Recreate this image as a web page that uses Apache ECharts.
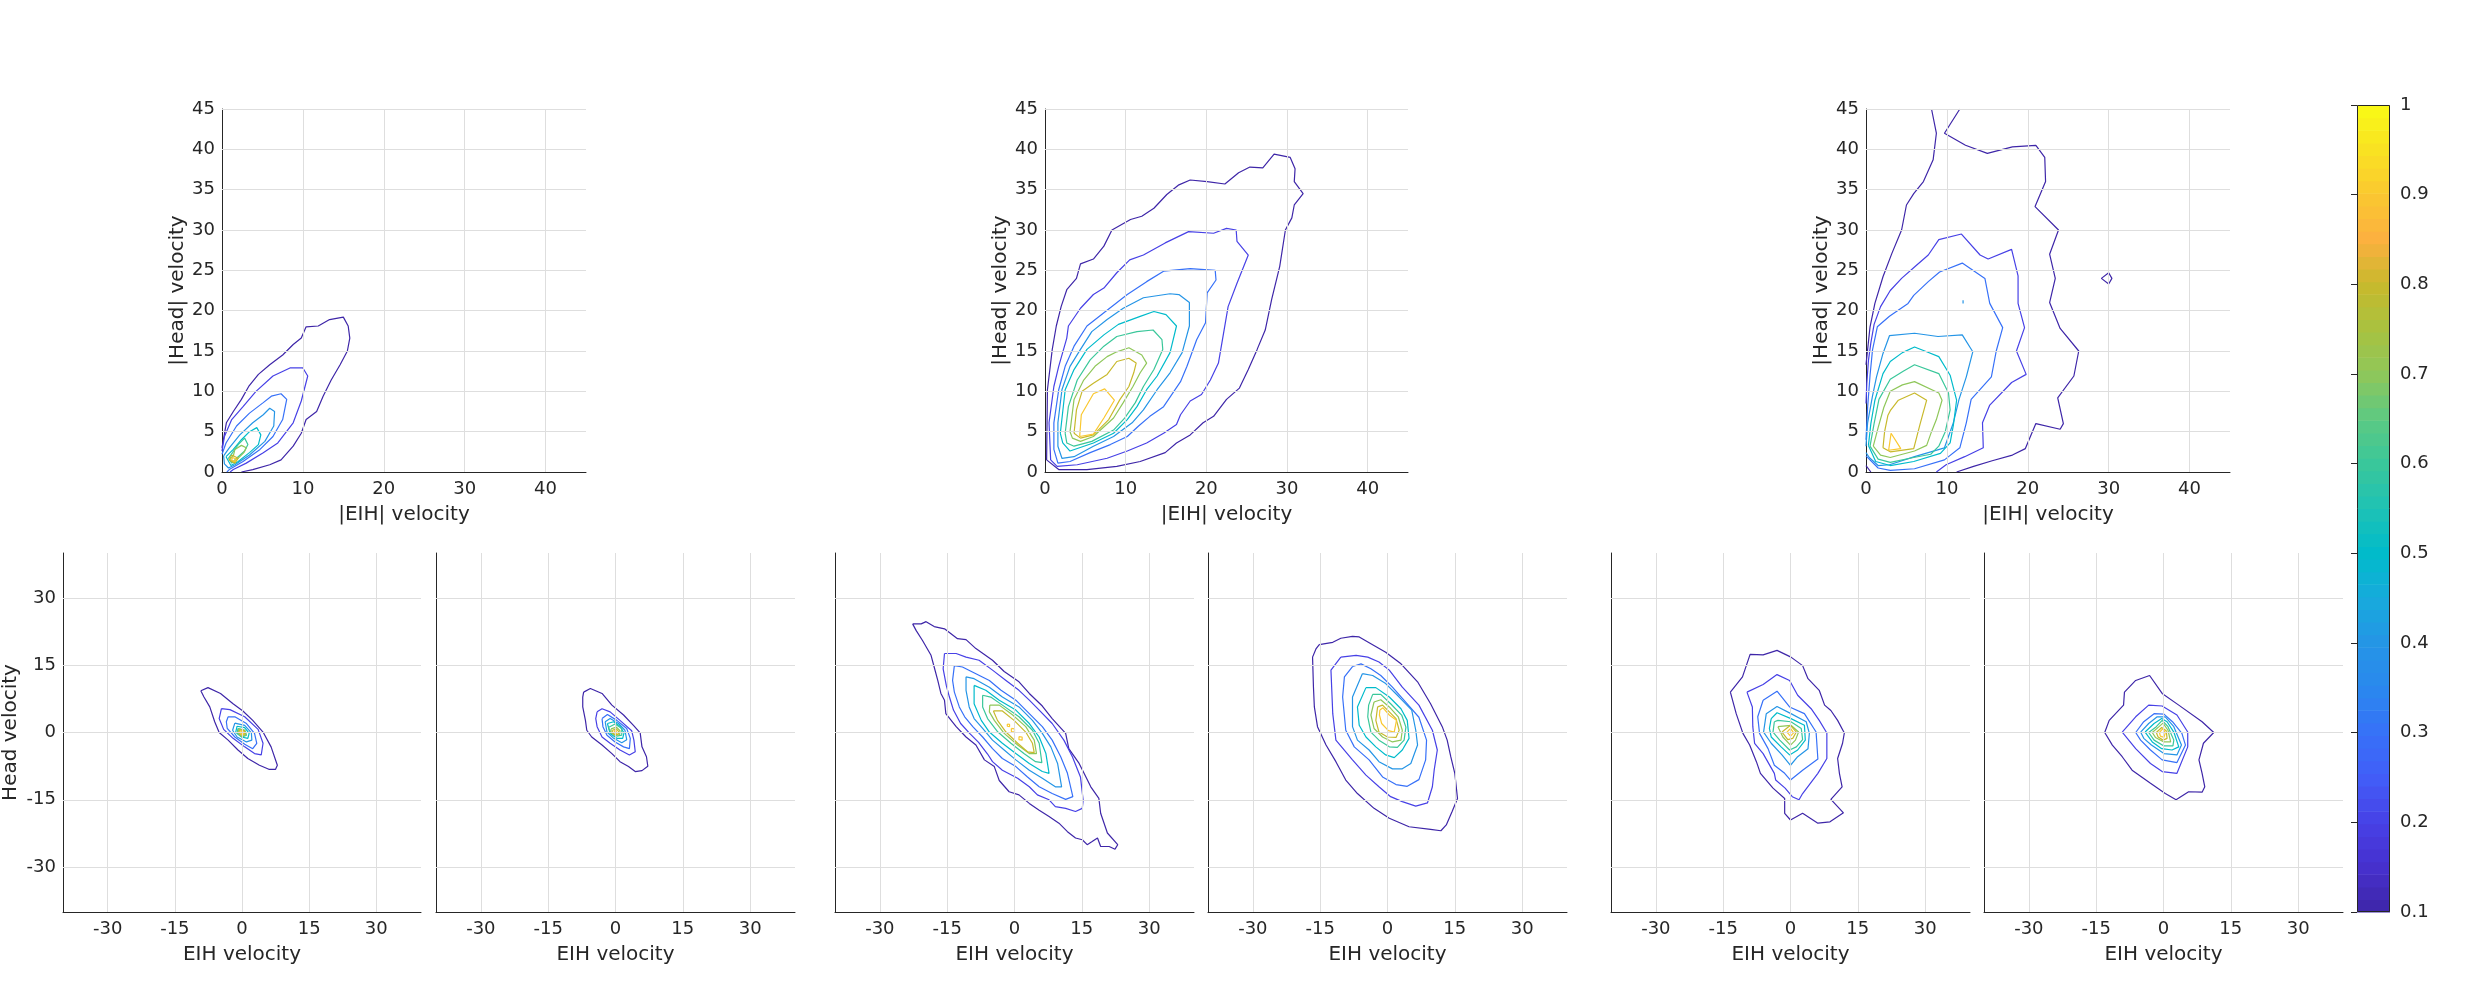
<!DOCTYPE html>
<html><head><meta charset="utf-8">
<script src="https://cdn.jsdelivr.net/npm/echarts@6/dist/echarts.min.js"></script>
<style>html,body{margin:0;padding:0;background:#fff}#c{width:2466px;height:995px}</style>
</head><body><div id="c"></div><script>
// ---------------- DATA ----------------
const contourLevels = [0.1,0.2,0.3,0.4,0.5,0.6,0.7,0.8,0.9];
const topRange = [0,45];
const topTicksX = [0,10,20,30,40];
const topTicksY = [0,5,10,15,20,25,30,35,40,45];
const bottomRange = [-40,40];
const bottomTicks = [-30,-15,0,15,30];
const colorRange = [0.1,1];
const colorbarTicks = [0.1,0.2,0.3,0.4,0.5,0.6,0.7,0.8,0.9,1];
const nameAbsX = '|EIH| velocity', nameAbsY = '|Head| velocity';
const nameX = 'EIH velocity', nameY = 'Head velocity';

// contour entries: [levelIndex, closed(1/0), points [x,y]...]
const contoursTop1 = [
 [0,0,[[0,3.0],[0.54,6.1],[1.4,7.5],[2.4,9.0],[3.3,10.6],[4.5,12.1],[5.9,13.3],[7.5,14.5],[8.8,15.8],[9.8,16.6],[10.4,18.0],[11.9,18.1],[13.3,18.9],[15.0,19.2],[15.6,18.1],[15.8,16.6],[15.5,15.0],[14.6,13.3],[13.5,11.4],[12.5,9.4],[11.7,7.5],[10.4,6.5],[9.8,4.8],[8.8,3.2],[7.3,1.5],[5.9,0.9],[3.8,0.3],[2.4,0]]],
 [1,0,[[0,2.6],[0.3,4.4],[1.2,6.5],[2.6,8.1],[4.2,10.0],[6.3,11.9],[8.4,12.9],[10.0,12.9],[10.6,11.9],[9.8,8.8],[8.8,6.1],[6.9,3.6],[5.1,2.4],[3.0,1.1],[1.4,0.3],[1.0,0]]],
 [2,0,[[0,2.2],[0.5,3.6],[1.8,5.7],[3.4,7.3],[5.1,8.6],[6.1,9.4],[7.3,9.7],[8.0,9.0],[7.5,6.5],[6.3,4.4],[4.7,2.8],[2.6,1.3],[0.9,0.3],[0.6,0]]],
 [3,1,[[0.2,2.0],[0.9,3.0],[2.2,4.6],[3.8,6.1],[5.1,7.1],[5.9,7.9],[6.5,7.5],[6.4,5.7],[5.3,3.8],[3.4,2.1],[1.6,0.9],[0.8,0.5],[0.3,1.0]]],
 [4,1,[[0.5,1.9],[1.4,2.8],[2.4,4.0],[3.4,5.0],[4.3,5.5],[4.8,4.6],[4.5,3.4],[3.4,2.4],[2.0,1.3],[1.1,0.8]]],
 [5,1,[[0.8,1.7],[1.3,2.4],[2.0,3.4],[2.8,4.2],[3.2,3.4],[2.8,2.6],[1.8,1.7],[1.2,1.1]]],
 [6,1,[[1.0,1.6],[1.4,2.0],[1.6,2.8],[2.4,3.3],[3.0,3.0],[2.7,2.4],[1.8,1.5],[1.3,1.2]]],
 [7,1,[[1.2,2.1],[2.0,1.7],[1.6,1.1],[0.9,1.5]]],
 [8,1,[[1.3,1.8],[1.8,1.6],[1.5,1.3],[1.2,1.5]]]
];
const contoursTop2 = [
 [0,1,[[0.2,1.5],[0.3,10.2],[0.9,15.2],[1.4,18.1],[2.0,20.5],[2.7,22.6],[3.9,24.0],[4.4,25.8],[6.0,26.4],[7.3,28.0],[8.3,30.0],[10.6,31.3],[12.0,31.7],[13.5,32.7],[15.1,34.4],[16.6,35.6],[18.0,36.2],[20.1,36.0],[22.3,35.7],[24.0,37.1],[25.4,37.8],[27.0,37.7],[28.4,39.4],[30.4,39.0],[31.0,37.6],[30.9,36.0],[32.0,34.5],[30.9,33.1],[30.6,31.5],[29.8,30.0],[29.1,25.5],[28.1,21.4],[27.3,17.6],[26.3,15.2],[25.2,12.7],[24.1,10.4],[22.5,9.0],[20.9,6.9],[19.6,6.1],[18.0,4.6],[16.3,3.6],[14.9,2.4],[11.8,1.3],[8.9,0.7],[5.2,0.3],[1.7,0.3]]],
 [1,1,[[0.7,1.5],[0.5,6.1],[1.1,10.6],[1.7,13.1],[2.7,16.6],[2.9,18.1],[4.4,20.3],[6.0,22.0],[7.3,22.8],[8.9,24.7],[10.5,26.3],[12.2,26.9],[14.9,28.4],[17.8,29.8],[20.9,29.6],[22.5,30.2],[23.7,30.0],[23.8,28.6],[25.2,26.9],[23.8,23.4],[22.7,20.5],[21.5,13.5],[20.5,11.4],[19.4,9.6],[18.0,8.8],[16.8,7.1],[16.3,5.9],[14.7,4.8],[12.6,3.6],[10.2,2.6],[7.7,1.7],[4.0,0.9],[1.5,0.7]]],
 [2,1,[[1.1,6.1],[1.7,10.2],[2.5,13.1],[3.6,15.6],[5.2,18.1],[7.5,19.9],[10.2,22.0],[12.6,23.6],[14.7,24.9],[18.0,25.2],[21.1,25.0],[21.2,23.8],[20.1,22.2],[19.9,18.5],[18.8,16.4],[17.6,13.1],[16.8,11.2],[14.7,8.1],[13.0,6.9],[11.6,5.7],[10.2,4.4],[8.1,3.4],[5.6,2.4],[3.1,1.3],[1.6,1.1],[1.1,2.8]]],
 [3,1,[[1.6,6.1],[2.1,10.2],[3.1,13.1],[4.4,15.2],[5.8,17.4],[7.7,18.9],[9.7,20.3],[12.2,21.6],[15.5,22.1],[16.6,22.0],[17.9,21.0],[17.9,18.1],[17.0,14.8],[15.5,12.3],[13.9,10.2],[12.2,7.7],[10.8,6.1],[8.5,4.4],[6.0,3.2],[3.6,1.9],[2.1,1.7],[1.6,3.2]]],
 [4,1,[[1.9,4.8],[2.5,10.2],[3.6,12.7],[5.2,15.2],[7.3,17.0],[9.1,18.3],[11.8,19.3],[13.5,19.9],[15.0,19.5],[16.3,18.1],[15.5,14.8],[13.9,11.9],[12.6,10.2],[11.4,8.1],[10.2,6.5],[8.5,4.8],[6.0,3.6],[3.1,2.6],[2.2,3.6]]],
 [5,1,[[2.5,4.8],[2.9,8.1],[4.0,11.4],[5.6,13.9],[7.3,15.6],[8.9,16.8],[11.4,17.4],[13.4,17.6],[14.5,16.4],[14.6,15.2],[13.5,12.7],[12.2,10.6],[11.2,8.6],[9.9,6.7],[8.5,5.2],[5.8,3.8],[3.6,3.2],[2.7,3.6]]],
 [6,1,[[3.1,5.0],[3.6,9.0],[4.8,11.4],[6.2,13.1],[7.7,14.3],[8.9,14.9],[10.4,15.4],[12.0,14.5],[12.6,13.5],[11.8,12.3],[10.9,10.6],[9.7,8.6],[8.5,6.7],[6.0,4.4],[4.4,3.8],[3.4,4.2]]],
 [7,1,[[3.6,4.8],[3.9,7.7],[4.6,10.0],[6.0,11.0],[7.7,12.1],[8.9,13.7],[10.4,14.1],[11.3,13.5],[11.0,12.3],[10.4,10.6],[9.3,9.0],[7.9,6.5],[6.0,4.6],[4.4,4.2]]],
 [8,1,[[4.3,4.4],[4.5,7.1],[6.0,9.7],[7.4,10.3],[8.6,8.9],[7.3,6.7],[6.0,4.7]]]
];
const contoursTop3 = [
 [0,0,[[0,13.3],[0.5,18.0],[1.1,20.9],[2.1,24.2],[3.2,27.1],[4.4,30.0],[5.0,33.1],[5.9,34.5],[7.1,36.0],[8.3,38.7],[8.7,42.0],[8.1,45]]],
 [0,0,[[11.6,45],[9.7,42.0],[12.3,40.5],[15.0,39.5],[18.1,40.3],[21.0,40.5],[22.1,39.0],[22.2,36.0],[20.9,32.9],[23.8,30.0],[22.7,27.0],[23.4,24.0],[22.7,21.0],[24.0,17.8],[26.3,15.0],[25.7,11.9],[23.7,9.2],[24.4,6.0],[24.0,5.3],[21.0,6.0],[19.7,2.9],[18.1,2.1],[15.6,1.4],[13.3,0.7],[11.2,0]]],
 [0,0,[[0,0.8],[0.6,0]]],
 [0,1,[[30.0,24.7],[30.4,24.0],[30.0,23.3],[29.1,24.0]]],
 [1,0,[[0,8.5],[0.1,11.0],[0.3,13.8],[0.6,16.0],[1.0,18.3],[1.8,20.5],[3.0,22.5],[4.4,24.0],[6.1,25.5],[7.7,26.9],[9.0,28.8],[11.8,29.5],[14.1,26.9],[15.1,26.4],[18.0,27.6],[18.8,24.3],[18.8,20.9],[19.6,17.9],[18.6,15.0],[19.8,12.1],[18.0,11.1],[15.3,8.3],[14.4,6.1],[14.5,3.0],[12.2,1.9],[9.9,0.9],[8.7,0]]],
 [2,0,[[0,4.0],[0.2,8.0],[0.5,12.0],[0.8,15.1],[1.4,18.0],[2.9,19.3],[5.2,20.9],[5.9,21.9],[7.7,23.6],[9.1,24.8],[11.9,25.9],[14.7,24.0],[15.3,20.9],[16.9,17.9],[16.1,15.0],[15.5,11.8],[13.0,9.0],[12.4,6.1],[11.6,3.0],[9.7,1.5],[6.0,0.4],[3.0,0.2],[1.5,0.5],[0,2.0]]],
 [3,0,[[0,3.2],[0.2,6.1],[0.8,9.4],[1.3,11.8],[2.1,14.7],[2.9,16.9],[6.0,17.2],[8.9,16.8],[11.9,17.0],[13.2,14.9],[12.4,11.8],[11.5,9.0],[10.8,6.1],[9.7,3.0],[6.0,1.9],[2.9,0.9],[1.5,0.8],[0.4,1.8],[0,2.4]]],
 [3,0,[[12.0,20.9],[12.0,21.3]]],
 [4,1,[[0.3,3.3],[0.6,6.0],[1.1,8.9],[2.1,12.2],[3.0,13.7],[4.5,14.8],[6.0,15.5],[7.5,14.9],[9.0,14.3],[10.4,12.0],[11.2,8.9],[10.8,5.8],[10.4,3.6],[9.2,2.3],[5.9,1.3],[3.0,0.8],[1.2,1.3]]],
 [5,1,[[0.5,3.2],[1.0,6.0],[1.6,9.0],[3.0,11.5],[4.6,12.5],[6.0,13.3],[9.0,12.2],[10.2,9.8],[10.4,7.7],[9.8,5.0],[9.0,3.2],[8.0,2.2],[5.9,1.8],[3.0,1.2],[1.5,1.6]]],
 [6,1,[[0.9,3.2],[1.5,5.5],[2.2,8.0],[3.0,10.0],[4.5,10.8],[6.0,11.2],[9.0,9.8],[9.4,8.9],[8.7,6.5],[8.1,5.0],[7.5,3.3],[6.0,2.6],[3.0,1.8],[1.8,2.1]]],
 [7,1,[[2.1,3.0],[2.3,5.0],[2.7,7.0],[3.0,7.6],[4.0,8.9],[6.0,9.8],[7.5,8.9],[6.7,6.0],[5.9,2.9],[3.0,2.5]]],
 [8,1,[[2.8,2.7],[3.1,4.8],[4.3,2.9]]]
];
const contoursBot1 = [
 [0,1,[[-9.2,9.3],[-7.6,10.0],[-4.8,8.7],[-2.0,6.4],[0.2,4.8],[2.4,2.7],[4.7,0.1],[6.5,-3.2],[7.9,-7.3],[7.5,-8.2],[6.0,-8.2],[3.9,-7.3],[1.3,-5.8],[-0.9,-3.9],[-3.1,-1.7],[-5.1,0],[-6.1,2.4],[-7.2,5.7],[-8.5,7.9]]],
 [1,1,[[-4.6,5.3],[-2.7,5.1],[0.6,3.5],[3.6,0.7],[4.7,-2.4],[4.3,-5.0],[2.8,-4.7],[0.6,-3.2],[-2.0,-1.3],[-4.1,0.7],[-5.1,3.1]]],
 [2,1,[[-3.1,3.5],[-1.6,3.5],[1.0,2.0],[2.8,-0.2],[3.3,-2.4],[2.4,-3.6],[0.6,-2.6],[-1.6,-1.0],[-3.3,0.9],[-3.5,2.4]]],
 [3,1,[[-1.6,2.1],[0.6,1.6],[2.1,-0.1],[2.2,-1.7],[1.0,-2.1],[-1.1,-1.0],[-2.1,0.5]]],
 [4,1,[[-1.1,1.4],[0.6,1.1],[1.6,-0.2],[1.3,-1.3],[-0.1,-1.0],[-1.4,0.1]]],
 [5,1,[[-0.9,0.9],[0.6,0.5],[1.0,-0.6],[0.1,-1.0],[-1.1,-0.2]]],
 [6,1,[[-0.7,0.8],[0.6,0.5],[0.9,-0.5],[-0.1,-0.9],[-0.9,0]]],
 [7,1,[[-0.5,0.6],[0.5,0.4],[0.6,-0.4],[-0.1,-0.6],[-0.7,0]]],
 [8,1,[[-0.3,0.4],[0.3,0.2],[0.4,-0.3],[-0.1,-0.4],[-0.4,0]]]
];
const contoursBot2 = [
 [0,1,[[-7.1,9.0],[-5.6,9.8],[-3.0,8.7],[-0.8,6.1],[1.8,3.9],[4.0,1.6],[5.5,-0.1],[5.9,-3.2],[6.9,-5.4],[7.2,-7.5],[5.9,-8.5],[4.4,-8.7],[2.9,-7.6],[1.0,-6.5],[-0.8,-4.7],[-3.0,-2.8],[-5.3,-1.0],[-6.4,0.5],[-6.7,2.7],[-7.3,5.7],[-7.3,7.9]]],
 [1,1,[[-4.1,4.6],[-3.0,5.3],[-1.2,4.6],[1.0,2.7],[3.6,0.4],[4.1,-1.7],[4.4,-4.3],[3.1,-5.0],[1.0,-3.9],[-1.2,-2.4],[-3.0,-1.0],[-4.1,1.3],[-4.4,3.1]]],
 [2,1,[[-3.0,3.1],[-1.8,4.0],[0.3,2.7],[2.5,0.9],[3.3,-1.3],[3.1,-3.6],[1.8,-3.2],[-0.1,-2.1],[-1.9,-0.6],[-2.8,1.3]]],
 [3,1,[[-2.3,2.4],[-1.2,3.1],[0.7,2.0],[2.1,0.5],[2.5,-1.6],[1.4,-2.3],[-0.4,-1.3],[-1.9,0.1]]],
 [4,1,[[-1.8,2.0],[-0.4,2.4],[1.0,1.4],[1.9,-0.1],[1.6,-1.3],[0.3,-1.3],[-1.2,-0.2]]],
 [5,1,[[-1.6,1.1],[-0.1,1.9],[1.4,0.9],[1.4,-0.6],[0.3,-0.8],[-1.0,-0.1]]],
 [6,1,[[-1.0,0.8],[0.2,1.2],[1.0,0.4],[0.9,-0.5],[-0.2,-0.6],[-1.0,0]]],
 [7,1,[[-0.7,0.5],[0.2,0.8],[0.7,0.2],[0.6,-0.4],[-0.2,-0.4],[-0.7,0]]],
 [8,1,[[-0.4,0.3],[0.1,0.5],[0.4,0.1],[0.3,-0.3],[-0.1,-0.2]]]
];
const contoursBot3 = [
 [0,1,[[-22.7,24.2],[-20.8,24.2],[-19.7,24.7],[-17.9,23.6],[-15.6,23.1],[-12.7,20.9],[-10.8,20.7],[-8.6,18.7],[-4.9,16.1],[-2.3,13.6],[1.0,11.3],[3.3,8.7],[6.2,5.9],[8.4,3.1],[11.4,-0.2],[12.1,-3.6],[14.4,-6.9],[15.5,-9.1],[17.0,-12.1],[18.8,-14.7],[19.2,-18.0],[20.7,-22.4],[23.0,-25.0],[22.4,-26.0],[21.1,-25.4],[19.2,-25.4],[18.5,-23.5],[17.3,-24.3],[16.2,-25.0],[15.1,-23.9],[13.6,-23.5],[11.8,-22.1],[9.9,-20.2],[7.7,-18.7],[5.5,-17.3],[3.3,-15.8],[1.0,-13.9],[-1.2,-13.2],[-3.4,-10.7],[-4.5,-7.6],[-6.7,-6.1],[-8.6,-2.8],[-10.8,-1.0],[-13.0,1.3],[-15.3,4.2],[-15.6,7.2],[-16.4,8.7],[-17.1,11.6],[-17.9,14.6],[-18.6,17.2],[-20.5,20.5],[-21.9,22.7]]],
 [1,1,[[-15.6,17.6],[-13.0,17.6],[-10.8,16.8],[-7.9,16.1],[-4.9,13.9],[-1.9,11.6],[1.0,9.4],[3.3,7.2],[5.5,5.0],[8.4,2.0],[11.0,-1.7],[12.9,-5.4],[14.7,-9.9],[15.3,-15.1],[15.1,-16.9],[13.6,-17.6],[11.4,-16.9],[9.1,-16.5],[7.7,-15.0],[5.1,-13.9],[3.3,-12.1],[0.7,-10.2],[-2.7,-8.4],[-4.9,-6.5],[-6.0,-4.8],[-8.0,-2.2],[-10.0,-0.2],[-12.0,2.0],[-13.6,5.0],[-14.5,7.9],[-15.2,10.5],[-15.9,14.2]]],
 [2,1,[[-13.4,14.9],[-11.6,14.6],[-8.6,13.1],[-5.6,11.6],[-3.0,9.4],[0.3,7.2],[3.3,4.2],[6.2,1.3],[8.4,-1.7],[10.3,-5.4],[11.8,-9.1],[13.0,-14.3],[11.4,-14.9],[8.4,-13.6],[5.5,-12.1],[2.9,-9.9],[0.3,-7.6],[-2.7,-5.8],[-4.9,-3.6],[-7.1,-1.0],[-9.3,1.3],[-11.1,3.5],[-12.3,5.7],[-13.4,9.0],[-13.8,11.6]]],
 [3,1,[[-10.8,12.4],[-9.0,12.0],[-5.6,10.1],[-2.7,7.9],[1.0,5.7],[4.0,2.7],[6.2,-0.2],[8.1,-3.2],[9.6,-6.9],[10.5,-12.1],[9.1,-12.1],[6.2,-10.2],[3.3,-8.4],[0.3,-6.1],[-2.3,-3.9],[-4.9,-1.7],[-7.1,0.9],[-9.0,3.1],[-10.1,5.7],[-10.8,9.4]]],
 [4,1,[[-9.0,10.5],[-6.4,9.4],[-3.4,7.2],[0.3,5.0],[3.3,2.0],[5.5,-1.0],[7.0,-4.7],[7.7,-9.1],[6.2,-8.7],[3.3,-6.9],[0.3,-4.7],[-2.7,-2.4],[-5.6,0.1],[-7.4,2.7],[-9.0,6.4]]],
 [5,1,[[-7.1,8.3],[-5.3,7.9],[-2.7,6.1],[1.0,3.5],[4.0,0.5],[5.5,-2.4],[6.1,-6.7],[4.7,-6.5],[2.1,-4.7],[-0.8,-2.4],[-3.7,0.1],[-6.0,3.1],[-7.1,5.7]]],
 [6,1,[[-5.5,6.1],[-3.4,6.1],[-0.4,3.9],[2.5,1.3],[4.4,-1.7],[4.9,-4.7],[3.3,-4.7],[0.7,-2.8],[-2.3,-0.2],[-4.5,2.7],[-5.6,4.6]]],
 [7,1,[[-4.7,4.8],[-2.7,4.8],[-0.1,2.7],[2.5,0.1],[4.0,-2.4],[4.4,-4.5],[2.9,-4.3],[0.7,-2.4],[-1.9,0.1],[-3.8,2.7]]],
 [8,1,[[-1.6,1.9],[-1.1,1.8],[-1.1,1.3],[-1.6,1.4]]],
 [8,1,[[-0.7,0.9],[0.0,0.8],[0.0,0.1],[-0.7,0.2]]],
 [8,1,[[1.0,-0.9],[1.7,-1.0],[1.7,-1.7],[1.0,-1.6]]]
];
const contoursBot4 = [
 [0,1,[[-15.2,19.6],[-12.2,20.1],[-10.4,21.0],[-7.8,21.4],[-6.3,21.3],[-3.7,19.8],[-0.4,17.9],[3.0,15.3],[6.7,11.3],[9.6,6.4],[12.2,1.3],[13.3,-1.7],[14.1,-5.4],[15.0,-9.1],[15.6,-14.7],[14.4,-17.6],[13.1,-20.6],[11.9,-21.9],[9.6,-21.6],[4.8,-21.0],[0.4,-19.1],[-3.0,-16.9],[-6.7,-13.6],[-9.3,-10.6],[-11.5,-6.5],[-13.7,-2.8],[-15.6,1.3],[-16.3,5.7],[-16.5,10.1],[-16.7,16.8],[-15.9,18.7]]],
 [1,1,[[-10.4,16.8],[-7.0,17.2],[-4.4,16.8],[-1.9,15.7],[0.4,13.9],[3.3,10.1],[7.0,6.1],[10.0,0.5],[11.1,-3.9],[10.4,-8.4],[10.0,-12.1],[8.9,-15.7],[6.3,-16.4],[3.3,-15.4],[0.7,-14.3],[-1.9,-12.1],[-4.8,-9.5],[-7.8,-6.1],[-11.5,-1.7],[-12.2,4.2],[-12.6,13.9]]],
 [2,1,[[-7.8,14.7],[-5.9,15.3],[-3.7,14.2],[-1.5,12.7],[1.1,10.1],[4.1,6.7],[7.0,3.4],[8.7,-1.7],[8.5,-6.1],[7.0,-10.5],[4.4,-12.0],[1.9,-11.6],[-1.1,-9.9],[-4.1,-6.1],[-7.4,-3.2],[-9.3,0.5],[-10.0,7.9],[-9.6,12.4]]],
 [3,1,[[-5.6,13.1],[-3.3,12.7],[-0.4,10.9],[2.6,7.9],[5.4,5.0],[6.3,0.5],[6.7,-2.8],[5.2,-6.9],[3.3,-8.1],[1.1,-8.1],[-1.9,-6.5],[-4.1,-3.9],[-6.7,-1.7],[-7.8,1.3],[-7.8,7.9]]],
 [4,1,[[-4.8,10.0],[-2.6,10.0],[0.4,7.9],[3.0,5.3],[4.4,2.7],[4.8,-1.3],[3.3,-3.9],[1.5,-5.6],[-0.4,-5.0],[-2.6,-3.2],[-4.8,-1.0],[-6.3,1.6],[-6.7,5.7]]],
 [5,1,[[-3.3,8.5],[-1.5,8.5],[0.7,6.4],[3.2,3.8],[4.1,1.2],[3.7,-1.7],[2.2,-3.3],[0.4,-3.2],[-1.9,-1.7],[-3.7,0.1],[-4.4,3.5],[-4.2,6.1]]],
 [6,1,[[-3.0,6.8],[-1.5,7.3],[0.4,5.7],[2.4,3.5],[3.3,0.5],[3.0,-1.7],[1.1,-2.1],[-1.1,-1.0],[-3.0,0.9],[-3.7,3.9]]],
 [7,1,[[-2.2,5.7],[-1.1,6.1],[0.4,4.6],[1.9,3.1],[2.6,0.5],[1.9,-1.1],[0,-1.0],[-1.9,0.1],[-2.6,2.7]]],
 [8,1,[[-1.7,5.0],[-1.0,5.5],[0.4,3.9],[2.0,2.7],[1.5,0.1],[0.2,0.4],[-1.3,2.0],[-1.8,3.9]]]
];
const contoursBot5 = [
 [0,1,[[-13.4,9.0],[-10.7,12.4],[-9.0,17.4],[-6.1,17.3],[-3.0,18.3],[0.1,16.8],[2.7,14.9],[3.9,12.0],[6.4,9.4],[7.6,6.1],[9.0,4.9],[10.5,2.7],[12.0,-0.1],[11.6,-2.4],[10.5,-5.8],[10.9,-9.1],[11.5,-12.1],[9.0,-14.9],[11.8,-17.9],[8.8,-19.9],[6.1,-20.2],[2.7,-18.0],[0,-19.5],[-1.3,-18.0],[-1.3,-14.7],[-3.9,-12.4],[-6.7,-9.1],[-7.6,-6.5],[-9.1,-2.8],[-10.6,-0.2],[-12.1,4.2]]],
 [1,1,[[-9.7,9.0],[-6.1,10.7],[-3.0,12.9],[-0.2,11.6],[1.6,8.3],[4.6,5.3],[6.4,2.7],[8.1,-0.1],[8.1,-5.8],[6.1,-9.1],[2.7,-13.6],[1.9,-15.0],[0.4,-14.3],[-1.2,-12.4],[-3.3,-10.6],[-3.6,-9.1],[-6.1,-4.7],[-8.0,-2.4],[-8.4,1.3],[-8.5,5.7]]],
 [2,1,[[-6.1,7.2],[-3.0,9.2],[-0.2,5.7],[3.1,4.2],[5.7,0.1],[6.1,-5.9],[2.7,-8.4],[0,-10.6],[-1.3,-9.1],[-3.6,-7.3],[-5.0,-3.6],[-6.9,-0.2],[-7.3,3.5]]],
 [3,1,[[-5.4,4.2],[-3.0,5.8],[0.1,4.2],[3.5,2.4],[4.2,-0.2],[3.9,-3.6],[1.6,-5.4],[0,-7.3],[-1.9,-5.0],[-4.3,-2.4],[-6.0,0.1]]],
 [4,1,[[-4.3,3.1],[-3.0,4.4],[0.1,3.1],[3.1,1.6],[3.3,-1.7],[1.6,-3.9],[-0.2,-5.0],[-2.1,-3.2],[-4.3,-1.0],[-4.7,0.9]]],
 [5,1,[[-3.6,2.4],[-2.8,2.7],[0.1,2.4],[2.4,0.9],[2.7,-1.6],[1.3,-3.2],[-0.2,-3.9],[-2.4,-1.7],[-3.9,0.1]]],
 [6,1,[[-2.8,1.3],[0.1,1.6],[1.8,0.1],[1.1,-1.7],[0,-2.8],[-1.7,-1.0]]],
 [7,1,[[-1.9,0.1],[0,1.6],[1.3,0.1],[0.5,-1.3],[-0.6,-1.6]]],
 [8,1,[[-0.8,0.1],[0,0.9],[0.7,-0.1],[0,-0.8]]]
];
const contoursBot6 = [
 [0,1,[[-13.1,0],[-12.1,2.7],[-8.9,6.1],[-8.7,9.0],[-6.2,11.6],[-3.1,12.7],[-0.3,8.7],[3.4,6.1],[8.6,2.4],[11.2,0],[8.9,-2.4],[7.9,-6.1],[8.6,-9.1],[9.2,-12.1],[8.6,-13.3],[5.6,-13.2],[2.8,-15.0],[0.4,-13.6],[-2.9,-11.3],[-7.0,-8.4],[-9.2,-5.4],[-11.4,-2.8]]],
 [1,1,[[-9.2,0.1],[-6.2,3.5],[-3.3,6.1],[-0.3,5.9],[3.0,3.9],[5.4,0.1],[5.4,-3.2],[3.0,-9.1],[-0.3,-8.7],[-2.9,-6.9],[-6.2,-3.6]]],
 [2,1,[[-6.2,0],[-4.4,2.4],[-2.1,4.2],[0.1,4.1],[2.0,2.4],[4.1,-0.2],[4.9,-2.8],[3.0,-6.7],[-0.3,-6.1],[-2.9,-3.9],[-5.1,-1.7]]],
 [3,1,[[-5.1,0.1],[-3.3,2.0],[-1.4,3.5],[0.4,3.5],[2.3,1.3],[4.0,-2.8],[3.0,-5.0],[0.1,-4.7],[-2.7,-2.8],[-4.4,-1.3]]],
 [4,1,[[-4.1,0.1],[-2.1,2.0],[-0.4,3.1],[0.8,2.4],[2.3,0.1],[3.4,-3.2],[1.9,-3.9],[-0.4,-3.6],[-2.5,-2.1]]],
 [5,1,[[-3.3,0],[-1.6,1.3],[-0.3,2.7],[1.0,1.3],[2.3,-1.7],[2.1,-3.0],[0.1,-3.0],[-2.1,-1.7]]],
 [6,1,[[-2.5,0],[-1.0,1.3],[-0.1,2.1],[1.0,0.5],[1.6,-2.1],[0.1,-2.1],[-1.8,-1.1]]],
 [7,1,[[-1.6,0],[-0.4,1.1],[0.6,0.4],[0.8,-1.3],[-0.1,-1.7],[-1.2,-1.0]]],
 [8,1,[[-0.9,0],[-0.1,0.9],[0.4,-0.1],[0.1,-1.1],[-0.7,-0.8]]]
];

// ---------------- COLORMAP (parula-like) ----------------
const parulaStops = [
 [0.000,[62,38,168]],[0.056,[70,48,205]],[0.111,[71,65,230]],[0.167,[66,94,248]],
 [0.222,[55,113,248]],[0.278,[42,136,238]],[0.333,[37,149,230]],[0.389,[23,170,220]],
 [0.444,[0,187,203]],[0.500,[30,194,181]],[0.556,[58,199,154]],[0.611,[92,201,131]],
 [0.667,[143,199,90]],[0.722,[168,194,64]],[0.778,[200,185,44]],[0.833,[252,176,64]],
 [0.889,[250,200,48]],[1.000,[249,251,21]]
];
function parula(t){
  t=Math.max(0,Math.min(1,t));
  for(let i=1;i<parulaStops.length;i++){
    const a=parulaStops[i-1],b=parulaStops[i];
    if(t<=b[0]){const f=(t-a[0])/(b[0]-a[0]);
      const c=a[1].map((v,k)=>Math.round(v+(b[1][k]-v)*f));
      return 'rgb('+c.join(',')+')';}
  }
  return 'rgb(249,251,21)';
}
function levelColor(L){return parula((L-colorRange[0])/(colorRange[1]-colorRange[0]));}

// ---------------- LAYOUT ----------------
const FONT='DejaVu Sans', TXT='#262626', GRIDC='#dedede';
const grids=[
 {left:222,top:109,width:364,height:363},
 {left:1045,top:109,width:363,height:363},
 {left:1866,top:109,width:364,height:363},
 {left:62,top:553,width:359,height:359},
 {left:436,top:553,width:359,height:359},
 {left:835,top:553,width:359,height:359},
 {left:1208,top:553,width:359,height:359},
 {left:1611,top:553,width:359,height:359},
 {left:1984,top:553,width:359,height:359},
 {left:2357,top:105,width:33,height:807}
];
const plots=[
 {c:contoursTop1,r:topRange,tx:topTicksX,ty:topTicksY,xn:nameAbsX,yn:nameAbsY,yl:true},
 {c:contoursTop2,r:topRange,tx:topTicksX,ty:topTicksY,xn:nameAbsX,yn:nameAbsY,yl:true},
 {c:contoursTop3,r:topRange,tx:topTicksX,ty:topTicksY,xn:nameAbsX,yn:nameAbsY,yl:true},
 {c:contoursBot1,r:bottomRange,tx:bottomTicks,ty:bottomTicks,xn:nameX,yn:nameY,yl:true},
 {c:contoursBot2,r:bottomRange,tx:bottomTicks,ty:bottomTicks,xn:nameX,yn:'',yl:false},
 {c:contoursBot3,r:bottomRange,tx:bottomTicks,ty:bottomTicks,xn:nameX,yn:'',yl:false},
 {c:contoursBot4,r:bottomRange,tx:bottomTicks,ty:bottomTicks,xn:nameX,yn:'',yl:false},
 {c:contoursBot5,r:bottomRange,tx:bottomTicks,ty:bottomTicks,xn:nameX,yn:'',yl:false},
 {c:contoursBot6,r:bottomRange,tx:bottomTicks,ty:bottomTicks,xn:nameX,yn:'',yl:false}
];
const xAxes=[],yAxes=[],series=[];
const lab={color:TXT,fontSize:18,fontFamily:FONT};
const nameStyle={color:TXT,fontSize:20,fontFamily:FONT};
plots.forEach((p,g)=>{
  const isBottom=g>=3;
  xAxes.push({type:'value',gridIndex:g,min:p.r[0],max:p.r[1],position:'bottom',
    axisLine:{show:true,onZero:false,lineStyle:{color:TXT,width:1}},
    axisTick:{show:true,inside:true,length:5,customValues:p.tx,lineStyle:{color:TXT}},
    axisLabel:Object.assign({show:true,customValues:p.tx,margin:8},lab),
    splitLine:{show:false},
    name:p.xn,nameLocation:'middle',nameGap:33,nameTextStyle:nameStyle});
  yAxes.push({type:'value',gridIndex:g,min:p.r[0],max:p.r[1],position:'left',
    axisLine:{show:true,onZero:false,lineStyle:{color:TXT,width:1}},
    axisTick:{show:true,inside:true,length:5,customValues:p.ty,lineStyle:{color:TXT}},
    axisLabel:Object.assign({show:p.yl,customValues:p.ty,margin:7},lab),
    splitLine:{show:false},
    name:p.yn,nameLocation:'middle',nameGap:isBottom?42:33,nameTextStyle:nameStyle});
  const ml=[];
  p.tx.forEach(v=>{if(v!==p.r[0]&&v!==p.r[1]) ml.push({xAxis:v});});
  p.ty.forEach(v=>{if(v!==p.r[0]) ml.push({yAxis:v});});
  series.push({type:'line',xAxisIndex:g,yAxisIndex:g,data:[],silent:true,z:1,animation:false,
    markLine:{silent:true,symbol:['none','none'],animation:false,label:{show:false},
      lineStyle:{color:GRIDC,width:1,type:'solid'},emphasis:{disabled:true},data:ml}});
  p.c.forEach(e=>{
    const L=contourLevels[e[0]];
    const pts=e[1]?e[2].concat([e[2][0]]):e[2];
    series.push({type:'line',xAxisIndex:g,yAxisIndex:g,data:pts,showSymbol:false,symbol:'none',
      silent:true,animation:false,z:3,clip:true,
      lineStyle:{color:levelColor(L),width:1.2}});
  });
});
// colorbar
const cb=plots.length;
xAxes.push({type:'value',gridIndex:cb,min:0,max:1,show:false});
yAxes.push({type:'value',gridIndex:cb,min:colorRange[0],max:colorRange[1],position:'right',
  axisLine:{show:false},
  axisTick:{show:true,inside:true,length:6,customValues:colorbarTicks,lineStyle:{color:TXT}},
  axisLabel:{show:true,customValues:colorbarTicks,margin:10,color:TXT,fontSize:18,fontFamily:FONT,
    formatter:v=>String(Math.round(v*10)/10)},
  splitLine:{show:false}});
const NSTEP=64, cbSteps=[];
for(let i=0;i<NSTEP;i++){const lo=colorRange[0]+(colorRange[1]-colorRange[0])*i/NSTEP;
  const hi=colorRange[0]+(colorRange[1]-colorRange[0])*(i+1)/NSTEP; cbSteps.push([lo,hi,(i+0.5)/NSTEP]);}
series.push({type:'custom',xAxisIndex:cb,yAxisIndex:cb,data:cbSteps,silent:true,animation:false,z:2,
  renderItem:(params,api)=>{const lo=api.value(0),hi=api.value(1),t=api.value(2);
    const a=api.coord([0,hi]),b=api.coord([1,lo]);
    return {type:'rect',shape:{x:a[0],y:a[1],width:b[0]-a[0],height:b[1]-a[1]+0.6},style:{fill:parula(t)}};}});
series.push({type:'custom',xAxisIndex:cb,yAxisIndex:cb,data:[[colorRange[0],colorRange[1]]],silent:true,animation:false,z:4,
  renderItem:(params,api)=>{const a=api.coord([0,api.value(1)]),b=api.coord([1,api.value(0)]);
    return {type:'rect',shape:{x:a[0]+0.5,y:a[1]+0.5,width:b[0]-a[0]-1,height:b[1]-a[1]-1},style:{fill:'none',stroke:TXT,lineWidth:1}};}});

const chart=echarts.init(document.getElementById('c'),null,{renderer:'canvas'});
chart.setOption({backgroundColor:'#fff',animation:false,grid:grids,xAxis:xAxes,yAxis:yAxes,series:series});
</script></body></html>
